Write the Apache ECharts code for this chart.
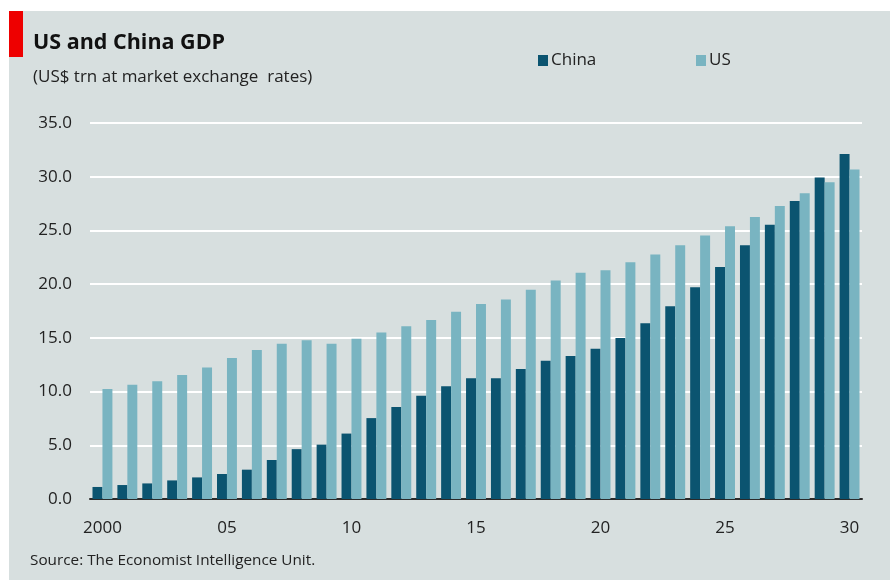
<!DOCTYPE html>
<html>
<head>
<meta charset="utf-8">
<script src="https://cdn.jsdelivr.net/npm/echarts@6/dist/echarts.min.js"></script>
<style>
html,body{margin:0;padding:0;background:#fff;}
#chart{width:890px;height:580px;}
</style>
</head>
<body>
<div id="chart"></div>
<script>
var years = ["2000","2001","2002","2003","2004","2005","2006","2007","2008","2009",
  "2010","2011","2012","2013","2014","2015","2016","2017","2018","2019",
  "2020","2021","2022","2023","2024","2025","2026","2027","2028","2029","2030"];
var china = [1.12,1.30,1.45,1.73,2.01,2.33,2.73,3.63,4.64,5.06,
  6.09,7.53,8.56,9.62,10.49,11.24,11.24,12.11,12.86,13.30,
  13.99,14.99,16.36,17.94,19.71,21.60,23.62,25.54,27.75,29.92,32.12];
var us = [10.24,10.64,10.95,11.54,12.25,13.13,13.87,14.46,14.77,14.46,
  14.92,15.49,16.08,16.67,17.42,18.14,18.58,19.48,20.35,21.05,
  21.29,22.04,22.75,23.62,24.52,25.39,26.26,27.28,28.46,29.49,30.66];
var seriesNames = ["China", "US"];
var titleText = "US and China GDP";
var subtitleText = "(US$ trn at market exchange  rates)";
var sourceText = "Source: The Economist Intelligence Unit.";

var FONT = "'Open Sans', sans-serif";
var chart = echarts.init(document.getElementById('chart'), null, {renderer: 'canvas'});
var option = {
  backgroundColor: '#ffffff',
  animation: false,
  graphic: [
    {type: 'rect', left: 9, top: 11, shape: {width: 881, height: 569}, style: {fill: '#d7dfdf'}, z: -10},
    {type: 'rect', left: 9, top: 11, shape: {width: 14, height: 46}, style: {fill: '#ee0000'}, z: -5}
  ],
  title: [
    {text: titleText, left: 33, top: 32, padding: 0, textStyle: {fontFamily: FONT, fontSize: 21.5, fontWeight: 'bold', color: '#111'}},
    {text: subtitleText, left: 33, top: 69, padding: 0, textStyle: {fontFamily: FONT, fontSize: 17, fontWeight: 'normal', color: '#222'}},
    {text: sourceText, left: 30, top: 553, padding: 0, textStyle: {fontFamily: FONT, fontSize: 15.3, fontWeight: 'normal', color: '#222'}}
  ],
  legend: [
    {data: [seriesNames[0]], left: 533, top: 47, icon: 'rect', itemWidth: 10, itemHeight: 11, itemGap: 4,
      textStyle: {fontFamily: FONT, fontSize: 17, color: '#222', padding: [0,0,0,-2]}},
    {data: [seriesNames[1]], left: 691, top: 47, icon: 'rect', itemWidth: 10, itemHeight: 11, itemGap: 4,
      textStyle: {fontFamily: FONT, fontSize: 17, color: '#222', padding: [0,0,0,-2]}}
  ],
  grid: {left: 90, right: 28, top: 123, bottom: 81, containLabel: false},
  xAxis: {
    type: 'category',
    data: years,
    axisTick: {show: false},
    axisLine: {show: true, lineStyle: {color: '#2a2a2a', width: 2}},
    axisLabel: {
      interval: 4,
      margin: 21,
      fontFamily: FONT, fontSize: 17, color: '#222',
      formatter: function (v, i) { return i === 0 ? v : v.slice(2); }
    }
  },
  yAxis: {
    type: 'value',
    min: 0, max: 35, interval: 5,
    axisLine: {show: false},
    axisTick: {show: false},
    axisLabel: {
      margin: 18,
      fontFamily: FONT, fontSize: 17, color: '#222',
      formatter: function (v) { return v.toFixed(1); }
    },
    splitLine: {show: true, lineStyle: {color: '#ffffff', width: 2}}
  },
  series: [
    {name: seriesNames[0], type: 'bar', data: china, barGap: '0%', barCategoryGap: '20%',
      itemStyle: {color: '#0b5470'}},
    {name: seriesNames[1], type: 'bar', data: us, barGap: '0%', barCategoryGap: '20%',
      itemStyle: {color: '#79b4c1'}}
  ]
};
chart.setOption(option);
</script>
</body>
</html>
